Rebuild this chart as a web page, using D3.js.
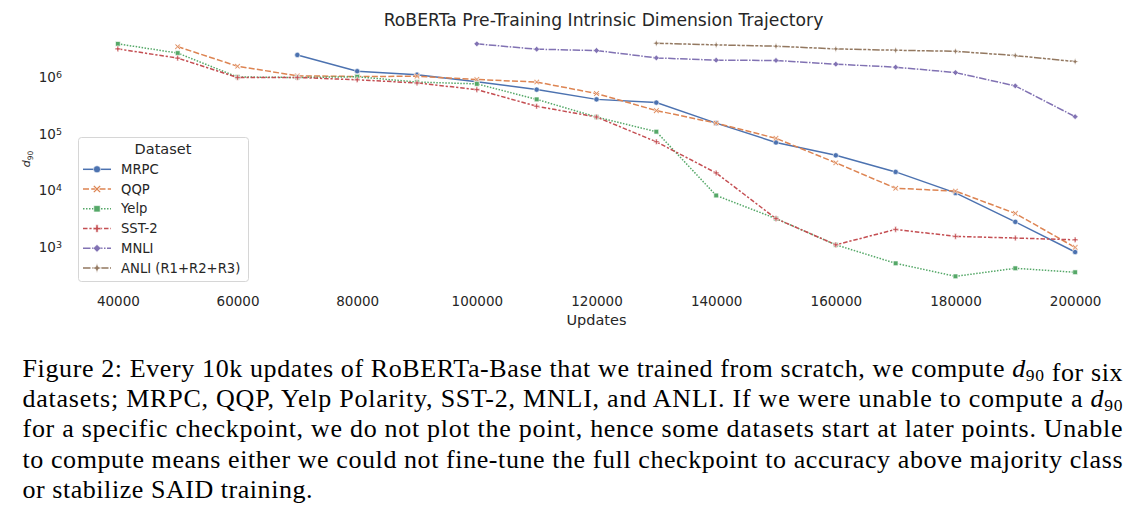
<!DOCTYPE html>
<html>
<head>
<meta charset="utf-8">
<script src="https://cdn.jsdelivr.net/npm/d3@7"></script>
<style>
  body { margin: 0; background: #fff; }
  svg { display: block; }
  .tick text { font-family: "DejaVu Sans", sans-serif; fill: #262626; }
</style>
</head>
<body>
<div id="chart"></div>
<script>
// Data (d90 per checkpoint, null = not computed)
var updates = [40000, 50000, 60000, 70000, 80000, 90000, 100000, 110000, 120000,
               130000, 140000, 150000, 160000, 170000, 180000, 190000, 200000];
var mrpc = [null, null, null, 2.5e6, 1.29e6, 1.12e6, 0.84e6, 0.61e6, 0.41e6,
            0.36e6, 1.56e5, 7.1e4, 4.2e4, 2.14e4, 9.1e3, 2.8e3, 820];
var qqp = [null, 3.5e6, 1.58e6, 1.07e6, 1.04e6, 1.05e6, 0.92e6, 0.83e6, 0.52e6,
           0.26e6, 1.56e5, 8.4e4, 3.1e4, 1.1e4, 9.8e3, 3.95e3, 990];
var yelp = [3.93e6, 2.7e6, 1.02e6, 1.0e6, 1.03e6, 0.83e6, 0.77e6, 0.41e6, 0.2e6,
            1.1e5, 8.2e3, 3.2e3, 1.1e3, 518, 305, 423, 360];
var sst2 = [3.2e6, 2.2e6, 1.0e6, 1.0e6, 0.91e6, 0.8e6, 0.61e6, 0.31e6, 0.2e6,
            7.3e4, 2.05e4, 3.2e3, 1.1e3, 2.06e3, 1.55e3, 1.45e3, 1.35e3];
var mnli = [null, null, null, null, null, null, 3.93e6, 3.16e6, 3.0e6,
            2.22e6, 2.02e6, 2.0e6, 1.72e6, 1.52e6, 1.22e6, 7.1e5, 2.03e5];
var anli = [null, null, null, null, null, null, null, null, null,
            4.03e6, 3.77e6, 3.57e6, 3.2e6, 3.03e6, 2.9e6, 2.44e6, 1.91e6];
var datasetNames = ['MRPC', 'QQP', 'Yelp', 'SST-2', 'MNLI', 'ANLI (R1+R2+R3)'];
var xTicks = [40000, 60000, 80000, 100000, 120000, 140000, 160000, 180000, 200000];
var yTicks = [1e3, 1e4, 1e5, 1e6];

var captionLines = [
  ['Figure 2: Every 10k updates of RoBERTa-Base that we trained from scratch, we compute ', 'd90', ' for six'],
  ['datasets; MRPC, QQP, Yelp Polarity, SST-2, MNLI, and ANLI. If we were unable to compute a ', 'd90', ''],
  ['for a specific checkpoint, we do not plot the point, hence some datasets start at later points. Unable'],
  ['to compute means either we could not fine-tune the full checkpoint to accuracy above majority class'],
  ['or stabilize SAID training.']
];

var w = 1143, h = 509;
var colors = ['#4C72B0', '#DD8452', '#55A868', '#C44E52', '#8172B3', '#937860'];
var lw = 1.5;
var dashes = [null, [4, 1.5], [1, 1], [3, 1.25, 1.5, 1.25], [5, 1, 1, 1], [5, 1, 2, 1, 2, 1]];

// 4-pointed star and X markers like seaborn's defaults
var symbolStar4 = {
  draw: function(ctx, size) {
    var r = Math.sqrt(size) * 0.75, ri = r * 0.38;
    for (var i = 0; i < 8; i++) {
      var a = i * Math.PI / 4 - Math.PI / 2;
      var rr = i % 2 === 0 ? r : ri;
      if (i === 0) ctx.moveTo(rr * Math.cos(a), rr * Math.sin(a));
      else ctx.lineTo(rr * Math.cos(a), rr * Math.sin(a));
    }
    ctx.closePath();
  }
};
var symbolX = {
  draw: function(ctx, size) {
    var r = Math.sqrt(size) * 0.6, t = r * 0.32;
    var pts = [[0, -t], [r - t, -r], [r, -r + t], [t, 0], [r, r - t], [r - t, r],
               [0, t], [-r + t, r], [-r, r - t], [-t, 0], [-r, -r + t], [-r + t, -r]];
    pts.forEach(function(p, i) { if (i === 0) ctx.moveTo(p[0], p[1]); else ctx.lineTo(p[0], p[1]); });
    ctx.closePath();
  }
};
var symbolSquare = {
  draw: function(ctx, size) {
    var s = Math.sqrt(size) / 2;
    ctx.rect(-s, -s, 2 * s, 2 * s);
  }
};
var symbolPlus = {
  draw: function(ctx, size) {
    var r = Math.sqrt(size) * 0.6, t = r * 0.3;
    var pts = [[-t, -r], [t, -r], [t, -t], [r, -t], [r, t], [t, t], [t, r], [-t, r],
               [-t, t], [-r, t], [-r, -t], [-t, -t]];
    pts.forEach(function(p, i) { if (i === 0) ctx.moveTo(p[0], p[1]); else ctx.lineTo(p[0], p[1]); });
    ctx.closePath();
  }
};
var symbolDiamond = {
  draw: function(ctx, size) {
    var r = Math.sqrt(size) * 0.62;
    ctx.moveTo(0, -r); ctx.lineTo(r, 0); ctx.lineTo(0, r); ctx.lineTo(-r, 0); ctx.closePath();
  }
};
var markers = [d3.symbolCircle, symbolX, symbolSquare, symbolPlus, symbolDiamond, symbolStar4];

var series = [mrpc, qqp, yelp, sst2, mnli, anli].map(function(vals, i) {
  return {
    name: datasetNames[i],
    color: colors[i],
    dash: dashes[i],
    marker: markers[i],
    points: updates.map(function(u, j) { return {x: u, y: vals[j]}; })
      .filter(function(p) { return p.y !== null; })
  };
});

var svg = d3.select('#chart').append('svg')
  .attr('width', w)
  .attr('height', h)
  .style('font-family', '"DejaVu Sans", sans-serif');

svg.append('rect').attr('width', w).attr('height', h).attr('fill', '#fff');

//Scales
var x = d3.scaleLinear()
  .domain([32000, 208000])
  .range([70, 1123]);
var y = d3.scaleLog()
  .domain([Math.pow(10, 2.278), Math.pow(10, 6.811)])
  .range([288, 31.6]);

//Title
svg.append('text')
  .attr('x', 603.5)
  .attr('y', 26)
  .attr('text-anchor', 'middle')
  .style('font-size', '17.2px')
  .style('fill', '#262626')
  .text('RoBERTa Pre-Training Intrinsic Dimension Trajectory');

//Axes (no spines, no tick marks)
var xAxis = d3.axisBottom(x)
  .tickValues(xTicks)
  .tickFormat(d3.format('d'))
  .tickSize(0)
  .tickPadding(8);
var gx = svg.append('g')
  .attr('class', 'x axis')
  .attr('transform', 'translate(0,' + 288 + ')')
  .call(xAxis);
gx.select('.domain').remove();
gx.selectAll('text').style('font-size', '13.5px');

var yAxis = d3.axisLeft(y)
  .tickValues(yTicks)
  .tickFormat('')
  .tickSize(0);
var gy = svg.append('g')
  .attr('class', 'y axis')
  .attr('transform', 'translate(' + 62 + ',0)')
  .call(yAxis);
gy.select('.domain').remove();
gy.selectAll('.tick').each(function(d) {
  var t = d3.select(this).select('text')
    .attr('x', 0)
    .attr('dy', '0.32em')
    .style('font-size', '13.5px')
    .attr('text-anchor', 'end');
  t.append('tspan').text('10');
  t.append('tspan')
    .attr('dy', '-0.45em')
    .style('font-size', '9.5px')
    .text(Math.round(Math.log10(d)));
});

//Axis labels
svg.append('text')
  .attr('x', (x(40000) + x(200000)) / 2)
  .attr('y', 325)
  .attr('text-anchor', 'middle')
  .style('font-size', '14.5px')
  .style('fill', '#262626')
  .text('Updates');

var ylab = svg.append('text')
  .attr('transform', 'translate(30,' + 159 + ') rotate(-90)')
  .attr('text-anchor', 'middle')
  .style('fill', '#262626');
ylab.append('tspan').style('font-size', '11px').style('font-style', 'italic').text('d');
ylab.append('tspan').attr('dy', 2.5).style('font-size', '7.5px').text('90');

//Lines
var line = d3.line()
  .x(function(d) { return x(d.x); })
  .y(function(d) { return y(d.y); });

var g = svg.append('g');
series.forEach(function(s) {
  g.append('path')
    .datum(s.points)
    .attr('fill', 'none')
    .attr('stroke', s.color)
    .attr('stroke-width', lw)
    .attr('stroke-dasharray', s.dash ? s.dash.map(function(v) { return v * lw; }).join(',') : null)
    .attr('d', line);
  g.selectAll(null)
    .data(s.points)
    .enter().append('path')
    .attr('transform', function(d) { return 'translate(' + x(d.x) + ',' + y(d.y) + ')'; })
    .attr('d', d3.symbol().type(s.marker).size(22))
    .attr('fill', s.color)
    .attr('stroke', '#fff')
    .attr('stroke-width', 0.6);
});

//Legend
var legend = svg.append('g').attr('transform', 'translate(78,137)');
legend.append('rect')
  .attr('x', 0.5).attr('y', 0.5)
  .attr('width', 170).attr('height', 144)
  .attr('rx', 3)
  .attr('fill', '#fff')
  .attr('fill-opacity', 0.8)
  .attr('stroke', '#cccccc')
  .attr('stroke-width', 0.8);
legend.append('text')
  .attr('x', 85)
  .attr('y', 17)
  .attr('text-anchor', 'middle')
  .style('font-size', '14.5px')
  .style('fill', '#262626')
  .text('Dataset');
var item = legend.selectAll('g.item')
  .data(series)
  .enter().append('g')
  .attr('class', 'item')
  .attr('transform', function(d, i) { return 'translate(0,' + (32.3 + i * 19.75) + ')'; });
item.append('line')
  .attr('x1', 5).attr('x2', 33)
  .attr('stroke', function(d) { return d.color; })
  .attr('stroke-width', lw)
  .attr('stroke-dasharray', function(d) { return d.dash ? d.dash.map(function(v) { return v * lw; }).join(',') : null; });
item.append('path')
  .attr('transform', 'translate(19,0)')
  .attr('d', function(d) { return d3.symbol().type(d.marker).size(40)(); })
  .attr('fill', function(d) { return d.color; })
  .attr('stroke', '#fff')
  .attr('stroke-width', 0.6);
item.append('text')
  .attr('x', 43)
  .attr('dy', '0.35em')
  .style('font-size', '13.2px')
  .style('fill', '#262626')
  .text(function(d) { return d.name; });

//Caption (justified lines, last line set to its measured width)
var cap = svg.append('g')
  .style('font-family', '"Liberation Serif", "Times New Roman", serif')
  .style('font-size', '26px')
  .style('fill', '#000');
captionLines.forEach(function(parts, i) {
  var t = cap.append('text')
    .attr('x', 22.5)
    .attr('y', 377 + i * 30.2)
    .attr('textLength', i < 4 ? 1100 : 290)
    .attr('lengthAdjust', 'spacing');
  parts.forEach(function(p) {
    if (p === 'd90') {
      t.append('tspan').style('font-style', 'italic').text('d');
      t.append('tspan').attr('dy', 4).style('font-size', '17.5px').text('90');
      t.append('tspan').attr('dy', -4).text('');
    } else if (p !== '') {
      t.append('tspan').text(p);
    }
  });
});
</script>
</body>
</html>
